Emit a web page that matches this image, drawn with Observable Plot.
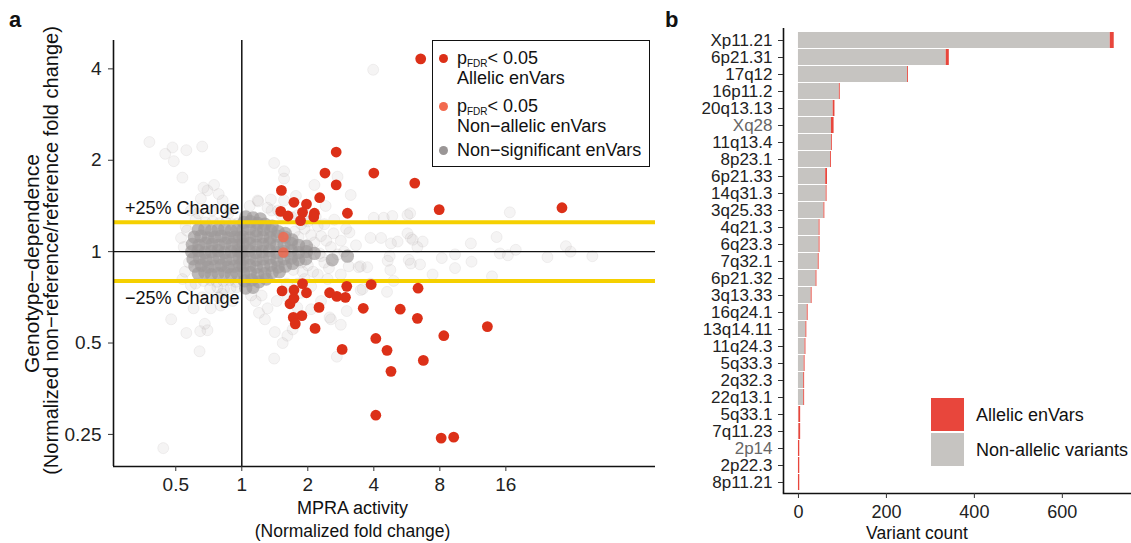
<!DOCTYPE html>
<html><head><meta charset="utf-8">
<script src="https://cdn.jsdelivr.net/npm/d3@7"></script>
<script src="https://cdn.jsdelivr.net/npm/@observablehq/plot@0.6"></script>
<style>
body{margin:0;background:#fff;font-family:"Liberation Sans",Arial,sans-serif;color:#111}
#wrap{position:relative;width:1131px;height:543px;overflow:hidden}
#pa,#pb{position:absolute;top:0}
#pa{left:0}#pb{left:660px}
.abs{position:absolute;white-space:nowrap}
.plab{font-weight:bold;font-size:22px;line-height:22px}
.lt{font-size:18px;line-height:18px}
.dot{position:absolute;border-radius:50%}
sub{font-size:10px;vertical-align:-3px;line-height:0}
</style></head><body><div id="wrap"><div id="pa"></div><div id="pb"></div></div>
<script>
// ---------- Panel a data (log2 units: [log2 MPRA activity, log2 genotype ratio]) ----------
const xTicksA = [0.5, 1, 2, 4, 8, 16];
const yTicksA = [0.25, 0.5, 1, 2, 4];
const thresholds = [1.25, 0.8];
const changeLabels = ["+25% Change", "\u221225% Change"];
const changeLabelX = [0.293, 0.293];
const changeLabelY = [1.385, 0.704];

const allelicLog2 = [[2.71,2.11],[1.43,1.09],[0.60,0.67],[1.26,0.86],[1.43,0.73],[2.00,0.86],[2.62,0.75],[1.18,0.59],[0.79,0.54],[0.98,0.52],[1.60,0.42],[2.99,0.46],[4.85,0.48],[0.59,0.44],[0.70,0.39],[0.92,0.43],[0.89,0.34],[1.10,0.42],[1.09,0.38],
[0.92,-0.35],[0.61,-0.43],[0.79,-0.42],[0.98,-0.45],[1.33,-0.45],[1.44,-0.49],[1.57,-0.50],[1.59,-0.38],[1.96,-0.36],[2.67,-0.40],[0.73,-0.57],[0.79,-0.51],[1.17,-0.61],[1.84,-0.62],[2.40,-0.63],[2.66,-0.73],[0.91,-0.70],[0.78,-0.72],[0.81,-0.79],[1.11,-0.84],[2.03,-0.95],[3.06,-0.92],[3.72,-0.82],[1.52,-1.07],[2.20,-1.08],[2.75,-1.19],[2.26,-1.31],[2.03,-1.79],[3.02,-2.04],[3.21,-2.03]];

const nonAllelicLog2 = [[0.63,0.16],[0.63,-0.01]];

const sparseLog2 = [[-1.40,1.20],[-1.16,1.07],[-1.05,1.14],[-1.03,0.99],[-0.84,1.11],[-0.60,1.15],[-0.90,0.81],[-0.58,0.70],[-0.42,0.73],[-0.35,0.63],[-0.52,0.67],[-0.62,0.58],[-0.77,0.45],[-0.29,0.56],[-0.17,0.47],[-0.83,0.23],[-0.80,-0.12],[-0.77,-0.37],[-0.85,0.27],[-0.66,0.42],[-0.45,0.45],[-0.88,0.05],[-0.86,-0.22],
[1.99,1.99],[0.49,0.97],[0.64,0.88],[0.64,0.80],[1.45,0.82],[1.10,0.73],[1.65,0.62],[0.25,0.55],[0.39,0.48],[0.64,0.56],[0.44,0.57],[0.24,0.56],[0.82,0.61],[1.27,0.50],[0.12,0.50],[0.55,0.45],[0.85,0.40],[1.0,0.33],
[1.95,0.15],[2.11,0.15],[2.26,0.09],[2.36,0.11],[2.51,0.40],[2.56,0.15],[2.66,0.05],[1.63,0.21],[1.39,0.20],[2.0,0.37],[2.15,0.37],[2.28,0.39],[2.55,0.42],[4.06,0.43],[2.51,0.20],[2.59,0.13],[2.74,0.11],[3.47,0.09],[3.86,0.16],[4.91,0.06],[4.98,0.0],[4.15,0.02],[3.91,-0.02],[4.03,-0.04],[4.63,-0.06],[5.31,-0.05],[3.03,-0.07],[3.23,-0.03],[3.48,-0.11],[2.70,-0.14],[2.53,-0.09],[2.25,-0.20],[2.24,-0.05],[1.77,-0.17],[1.62,-0.16],[2.89,-0.25],[3.23,-0.18],[3.79,-0.27],[2.30,-0.32],[2.20,-0.44],[1.80,-0.42],[1.80,-0.16],[1.90,-0.17],[2.21,-0.10],[2.56,-0.13],[1.50,0.12],[1.73,0.07],[1.20,0.17],[1.58,0.25],[1.25,0.30],[1.35,0.05],[1.45,-0.03],[1.25,-0.12],[1.15,-0.25],[1.3,-0.3],[1.05,-0.38],[1.12,0.38],[1.4,0.35],[1.2,-0.05],[1.1,0.1],[0.95,-0.3],[0.9,0.3],
[1.59,-0.65],[1.33,-0.72],[1.50,-0.80],[1.44,-1.15],[0.84,-0.61],[0.69,-0.92],[0.62,-1.00],[0.77,-0.85],[0.39,-0.62],[0.35,-0.74],[0.50,-0.88],[0.49,-1.17],[1.05,-0.63],[1.35,-0.74],[1.83,-0.41],[1.95,-0.35],[0.21,-0.54],[0.26,-0.67],[0.14,-0.48],[0.53,-0.54],[1.20,-0.54],[0.7,-0.5],[0.9,-0.45],
[-1.07,-0.74],[-0.84,-0.89],[-0.63,-0.87],[-0.52,-0.86],[-0.56,-0.79],[-0.64,-1.09],[-1.19,-2.15],[-0.73,-0.62],[-0.47,-0.62],[-0.32,-0.59],[-0.14,-0.54],[-0.6,-0.5],[-0.35,-0.5],
[0.95,0.25],[1.05,0.18],[1.15,0.28],[1.0,-0.15],[1.08,-0.22],[1.18,-0.02],[1.28,0.12],[1.32,-0.18],[0.92,-0.22],[0.98,0.4],[0.75,0.38],[0.68,-0.35],[0.85,-0.35],[0.6,0.4],[1.5,-0.25],[1.55,0.0],[-0.9,-0.3],[-0.92,0.15],[-0.7,0.35],[-0.7,-0.35],[-0.2,0.42],[-0.3,-0.46],[0.3,-0.48],[0.45,0.45],
[-0.55,0.32],[-0.44,0.33],[-0.34,0.31],[-0.24,0.32],[-0.14,0.30],[-0.06,0.31],[-0.58,-0.32],[-0.48,-0.31],[-0.38,-0.33],[-0.28,-0.32],[-0.18,-0.31],[-0.09,-0.33],[-0.48,-0.40],[-0.37,-0.39],[-0.27,-0.41],[-0.17,-0.40],[-0.08,-0.39],[0.86,0.16],[0.9,-0.12],[1.05,0.02],[0.8,0.22],[0.78,-0.2]];

const coreLog2 = [
[-0.66,0.24],[-0.56,0.25],[-0.46,0.23],[-0.36,0.24],[-0.26,0.25],[-0.16,0.23],[-0.07,0.24],
[-0.72,0.16],[-0.62,0.17],[-0.51,0.15],[-0.41,0.16],[-0.31,0.17],[-0.21,0.15],[-0.11,0.16],[-0.03,0.15],
[-0.75,0.08],[-0.65,0.07],[-0.55,0.09],[-0.45,0.08],[-0.35,0.07],[-0.25,0.09],[-0.15,0.08],[-0.05,0.07],
[-0.76,0.0],[-0.66,0.01],[-0.56,-0.01],[-0.46,0.0],[-0.36,0.01],[-0.26,-0.01],[-0.16,0.0],[-0.06,0.01],[-0.01,-0.01],
[-0.74,-0.08],[-0.64,-0.07],[-0.54,-0.09],[-0.44,-0.08],[-0.34,-0.07],[-0.24,-0.09],[-0.14,-0.08],[-0.04,-0.07],
[-0.71,-0.16],[-0.61,-0.15],[-0.51,-0.17],[-0.41,-0.16],[-0.31,-0.15],[-0.21,-0.17],[-0.11,-0.16],[-0.03,-0.15],
[-0.66,-0.24],[-0.56,-0.23],[-0.46,-0.25],[-0.36,-0.24],[-0.26,-0.23],[-0.16,-0.25],[-0.07,-0.24],
[0.06,0.38],[0.17,0.37],[0.28,0.36],
[0.03,0.32],[0.13,0.33],[0.24,0.31],[0.35,0.30],[0.46,0.28],
[0.02,0.24],[0.12,0.25],[0.22,0.23],[0.33,0.24],[0.44,0.23],[0.55,0.22],[0.66,0.2],
[0.02,0.16],[0.12,0.15],[0.22,0.17],[0.32,0.16],[0.43,0.15],[0.54,0.17],[0.65,0.16],[0.76,0.13],
[0.02,0.08],[0.12,0.09],[0.22,0.07],[0.32,0.08],[0.42,0.09],[0.53,0.07],[0.64,0.08],[0.75,0.09],[0.86,0.07],[0.98,0.06],
[0.01,0.0],[0.11,0.01],[0.21,-0.01],[0.31,0.0],[0.42,0.01],[0.53,-0.01],[0.64,0.0],[0.75,0.01],[0.86,-0.01],[0.98,0.0],[1.10,-0.02],
[0.02,-0.08],[0.12,-0.07],[0.22,-0.09],[0.32,-0.08],[0.42,-0.07],[0.53,-0.09],[0.64,-0.08],[0.75,-0.07],[0.86,-0.09],[0.97,-0.08],
[0.02,-0.16],[0.12,-0.15],[0.22,-0.17],[0.33,-0.16],[0.44,-0.15],[0.55,-0.17],[0.66,-0.16],[0.77,-0.13],
[0.03,-0.24],[0.13,-0.23],[0.24,-0.25],[0.35,-0.24],[0.46,-0.23],[0.57,-0.22],
[0.04,-0.32],[0.15,-0.31],[0.26,-0.33],[0.37,-0.3],
[0.06,-0.40],[0.17,-0.39],
[1.60,-0.05],[1.37,-0.09]];

// ---------- Panel b data ----------
const regions = ["Xp11.21","6p21.31","17q12","16p11.2","20q13.13","Xq28","11q13.4","8p23.1","6p21.33","14q31.3","3q25.33","4q21.3","6q23.3","7q32.1","6p21.32","3q13.33","16q24.1","13q14.11","11q24.3","5q33.3","2q32.3","22q13.1","5q33.1","7q11.23","2p14","2p22.3","8p11.21"];
const greyLabelRegions = ["Xq28","2p14"];
const nonAllelicCounts = [709,336,248,93,79,75,75,73,62,63,58,47,47,45,40,29,20,17,15,13,12,12,1,1,0,0,0];
const allelicCounts =    [9,7,2,2,4,6,2,2,4,2,2,2,2,2,2,2,2,2,2,2,2,2,4,4,3,3,3];
const barTypes = ["Non-allelic variants","Allelic enVars"];
const barColors = ["#c6c4c1","#e8463c"];
const xTicksB = [0, 200, 400, 600];

// ---------- build ----------
const toPts = arr => arr.map(([a, b]) => ({x: 2 ** a, y: 2 ** b}));
const font = "Liberation Sans, Arial, sans-serif";
const xDomA = [0.26, 77], yDomA = [0.196, 4.96];

const pa = Plot.plot({
  width: 660, height: 543,
  marginLeft: 113, marginRight: 5, marginTop: 40, marginBottom: 77,
  style: {fontFamily: font, background: "transparent", overflow: "visible", color: "#111"},
  x: {type: "log", base: 2, domain: xDomA},
  y: {type: "log", base: 2, domain: yDomA},
  marks: [
    Plot.dot(toPts(sparseLog2), {x: "x", y: "y", r: 5.5, fill: "#9a9696", fillOpacity: 0.1, stroke: "#9a9696", strokeOpacity: 0.12, strokeWidth: 1}),
    Plot.dot(toPts(coreLog2), {x: "x", y: "y", r: 6.6, fill: "#9e9a9a", fillOpacity: 0.68}),
    Plot.ruleY(thresholds, {stroke: "#f5d000", strokeWidth: 4}),
    Plot.ruleY([1], {stroke: "#111", strokeWidth: 1.3}),
    Plot.ruleX([1], {stroke: "#111", strokeWidth: 1.5}),
    Plot.dot(toPts(nonAllelicLog2), {x: "x", y: "y", r: 5.3, fill: "#f06a50", fillOpacity: 0.85}),
    Plot.dot(toPts(allelicLog2), {x: "x", y: "y", r: 5.4, fill: "#dc3018"}),
    Plot.text(changeLabels, {x: (d, i) => changeLabelX[i], y: (d, i) => changeLabelY[i], text: d => d, textAnchor: "start", fontSize: 18, fill: "#111"}),
    Plot.ruleX([xDomA[0]], {stroke: "#111", strokeWidth: 1.6}),
    Plot.ruleY([yDomA[0]], {stroke: "#111", strokeWidth: 1.6}),
    Plot.axisX({ticks: xTicksA, tickFormat: d => String(d), tickSize: 5, tickPadding: 6, fontSize: 19, label: null, stroke: "#333", fill: "#222"}),
    Plot.axisY({ticks: yTicksA, tickFormat: d => String(d), tickSize: 5, tickPadding: 7, fontSize: 19, label: null, stroke: "#333", fill: "#222"}),
    Plot.text(["MPRA activity"], {frameAnchor: "bottom", textAnchor: "middle", dx: -32, dy: 47, fontSize: 18, fill: "#111"}),
    Plot.text(["(Normalized fold change)"], {frameAnchor: "bottom", textAnchor: "middle", dx: -32, dy: 70, fontSize: 17.5, fill: "#111"}),
    Plot.text(["Genotype\u2212dependence"], {frameAnchor: "left", textAnchor: "middle", dx: -81, dy: 10, rotate: -90, fontSize: 21, fill: "#111"}),
    Plot.text(["(Normalized non\u2212reference/reference fold change)"], {frameAnchor: "left", textAnchor: "middle", dx: -62, dy: -3, rotate: -90, fontSize: 20, fill: "#111"})
  ]
});
document.getElementById("pa").appendChild(pa);

const barRows = regions.flatMap((r, i) => [
  {region: r, type: barTypes[0], n: nonAllelicCounts[i]},
  {region: r, type: barTypes[1], n: allelicCounts[i]}
]);
const blackLabelRegions = regions.filter(r => !greyLabelRegions.includes(r));
const xDomB = [-34, 755];
const pb = Plot.plot({
  width: 471, height: 543,
  marginLeft: 123, marginRight: 1, marginTop: 28, marginBottom: 50,
  style: {fontFamily: font, background: "transparent", overflow: "visible", color: "#111"},
  x: {domain: xDomB},
  y: {domain: regions, paddingInner: 0.08, paddingOuter: 0.04},
  color: {domain: barTypes, range: barColors},
  marks: [
    Plot.barX(barRows, {x: "n", y: "region", fill: "type"}),
    Plot.ruleX([xDomB[0]], {stroke: "#111", strokeWidth: 1.6}),
    Plot.frame({anchor: "bottom", stroke: "#111", strokeWidth: 1.6}),
    Plot.axisX({ticks: xTicksB, tickSize: 5, tickPadding: 7, fontSize: 18, label: null, stroke: "#333", fill: "#222"}),
    Plot.axisY({ticks: blackLabelRegions, tickSize: 5, tickPadding: 6, fontSize: 17, label: null, stroke: "#333", fill: "#222"}),
    Plot.axisY({ticks: greyLabelRegions, tickSize: 5, tickPadding: 6, fontSize: 17, label: null, stroke: "#333", fill: "#666"}),
    Plot.text(["Variant count"], {frameAnchor: "bottom", dx: -40, dy: 45, fontSize: 17.5, fill: "#111"})
  ]
});
document.getElementById("pb").appendChild(pb);

// ---------- legends & panel letters ----------
const wrap = document.getElementById("wrap");
function add(html, style, cls) {
  const d = document.createElement("div");
  d.className = cls || "abs";
  d.innerHTML = html;
  Object.assign(d.style, style);
  wrap.appendChild(d);
  return d;
}
add("a", {left: "9px", top: "9px"}, "abs plab");
add("b", {left: "665px", top: "9px"}, "abs plab");
// panel a legend
add("", {left: "432px", top: "40px", width: "216px", height: "125px", border: "1.6px solid #111", background: "#fff"}, "abs");
const legA = [
  {color: "#dc3018", lines: ["p<sub>FDR</sub>&lt; 0.05", "Allelic enVars"], cy: 58},
  {color: "#f26a4f", lines: ["p<sub>FDR</sub>&lt; 0.05", "Non\u2212allelic enVars"], cy: 106},
  {color: "#9a9696", lines: ["Non\u2212significant enVars"], cy: 150}
];
legA.forEach(it => {
  add("", {left: "438.5px", top: (it.cy - 4.5) + "px", width: "9px", height: "9px", background: it.color}, "dot");
  it.lines.forEach((t, j) => add(t, {left: "457px", top: (it.cy - 9 + j * 20) + "px"}, "abs lt"));
});
// panel b legend
barTypes.slice().reverse().forEach((t, i) => {
  add("", {left: "931px", top: (398 + i * 35) + "px", width: "33px", height: "33px", background: barColors[1 - i]}, "abs");
  add(t, {left: "976px", top: (406 + i * 35) + "px"}, "abs lt");
});
</script>
</body></html>
